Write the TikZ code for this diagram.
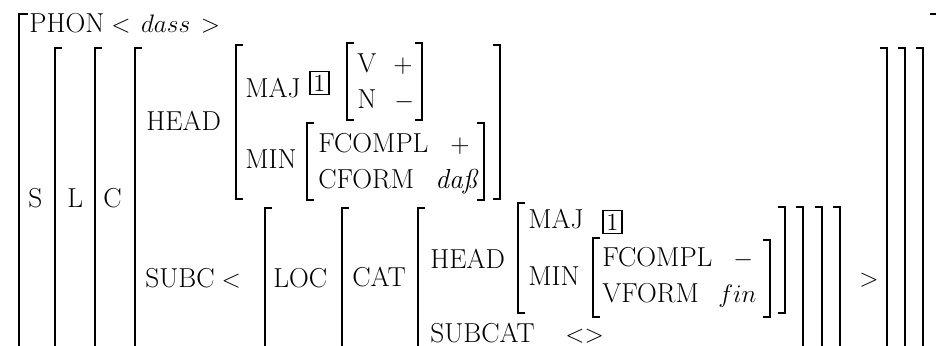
\documentclass[tikz,border=0pt]{standalone}
\usetikzlibrary{positioning}

\begin{document}
\begin{tikzpicture}[x=0.02cm, y=-0.02cm, inner sep=0pt,
    every node/.style={anchor=base west, font=\fontsize{15.6}{18}\selectfont},
    brk/.style={line width=1.1pt},
    tag/.style={draw, line width=0.9pt, anchor=center, minimum width=10.8pt,
        minimum height=13pt, font=\fontsize{14}{16}\selectfont}]

    \useasboundingbox (0,0) rectangle (936,345);
    \clip (0,0) rectangle (936,345);

    % top level
    \node (phon) at (29,32) {PHON\hspace{4pt}$<$\hspace{6pt}$dass$\hspace{6pt}$>$};
    \node (s) at (28,207) {S};
    \node (l) at (67,207) {L};
    \node (c) at (103,207) {C};

    % head of the sign
    \node (head) at (146,130) {HEAD};
    \node (maj) at (245,97) {MAJ};
    \node[tag] (tagA) at (319.5,83) {1};
    \node (v) at (357,72) {V};
    \node (vval) at (393,72) {$+$};
    \node (n) at (357,108) {N};
    \node (nval) at (394,108) {$-$};
    \node (min) at (245,168) {MIN};
    \node (fcompl) at (318,152) {FCOMPL};
    \node (fcomplval) at (450,152) {$+$};
    \node (cform) at (318,188) {CFORM};
    \node (cformval) at (435,188) {\textit{da\ss}};

    % subcategorised element
    \node (subc) at (145,287) {SUBC\hspace{4pt}$<$};
    \node (loc) at (273,287) {LOC};
    \node (cat) at (352,286) {CAT};
    \node (headB) at (430,268) {HEAD};
    \node (majB) at (528,228) {MAJ};
    \node[tag] (tagB) at (612.5,222) {1};
    \node (minB) at (528,285) {MIN};
    \node (fcomplB) at (602,266) {FCOMPL};
    \node (fcomplBval) at (733,266) {$-$};
    \node (vform) at (602,302) {VFORM};
    \node (vformval) at (718,302) {$fin$};
    \node (subcat) at (430,342) {SUBCAT};
    \node (subcatval) at (565,342) {$<>$};
    \node (gt) at (859,286) {$>$};

    % brackets
    \draw[brk] (28,14) -- (19,14) -- (19,360);
    \draw[brk] (930,14) -- (939,14) -- (939,360);
    \foreach \x/\t/\b in {55/48/360, 95/48/360, 135/48/360, 236/45/199,
        347/43/120, 307/123/200, 265/208/360, 342/208/360, 418/208/360,
        518/203/313, 593/238/317}
        \draw[brk] (\x+7,\t) -- (\x,\t) -- (\x,\b) -- (\x+7,\b);
    \foreach \x/\t/\b in {422/43/120, 484/123/200, 500/45/199, 770/240/317,
        785/207/313, 803/207/360, 822/207/360, 840/207/360,
        887/48/360, 905/48/360, 923/48/360}
        \draw[brk] (\x-7,\t) -- (\x,\t) -- (\x,\b) -- (\x-7,\b);
\end{tikzpicture}
\end{document}
